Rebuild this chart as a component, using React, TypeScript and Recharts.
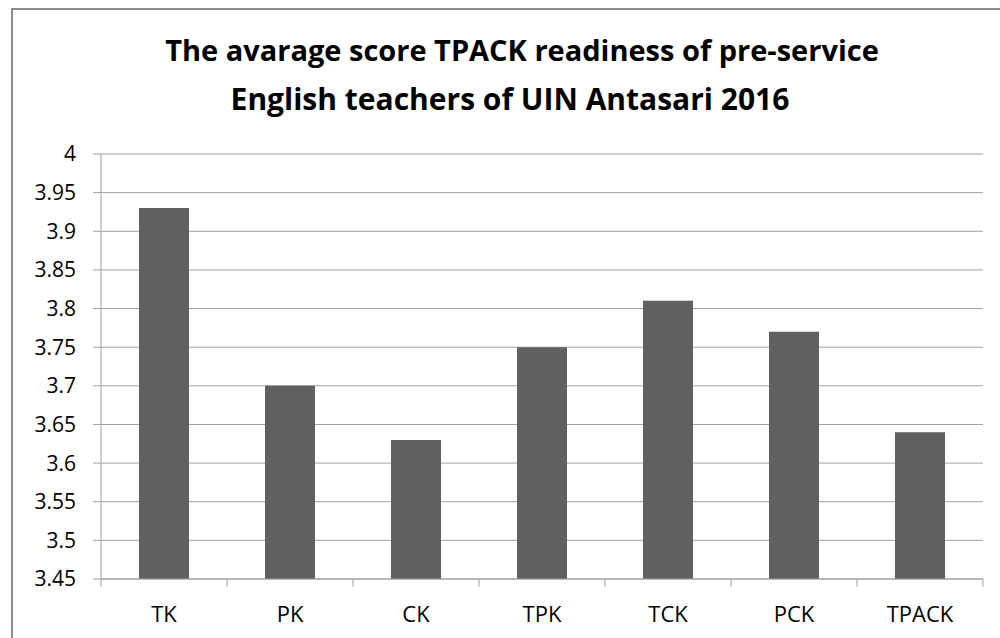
import { BarChart, Bar, XAxis, YAxis, CartesianGrid } from 'recharts';

const categories = ['TK', 'PK', 'CK', 'TPK', 'TCK', 'PCK', 'TPACK'];
const scores = [3.93, 3.7, 3.63, 3.75, 3.81, 3.77, 3.64];
const yTicks = [3.45, 3.5, 3.55, 3.6, 3.65, 3.7, 3.75, 3.8, 3.85, 3.9, 3.95, 4];
const titleLines = [
  'The avarage score TPACK readiness of pre-service',
  'English teachers of UIN Antasari 2016',
];

const data = categories.map((name, i) => ({ name, score: scores[i] }));

const W = 1000;
const H = 638;
const PLOT_LEFT = 101;
const PLOT_RIGHT = 983;
const FONT = '"Open Sans", "Noto Sans", sans-serif';
const GRID = '#a0a0a0';

const band = (PLOT_RIGHT - PLOT_LEFT) / categories.length;

function CategoryTick(props: any) {
  const { x, y, payload } = props;
  const idx = payload.index;
  const left = x - band / 2;
  return (
    <g>
      <line x1={left} y1={y} x2={left} y2={y + 8} stroke={GRID} strokeWidth={1} />
      {idx === categories.length - 1 && (
        <line x1={x + band / 2} y1={y} x2={x + band / 2} y2={y + 8} stroke={GRID} strokeWidth={1} />
      )}
      <text x={x} y={y + 43} textAnchor="middle" fontFamily={FONT} fontSize={22} fill="#000">
        {payload.value}
      </text>
    </g>
  );
}

export default function App() {
  return (
    <div style={{ position: 'absolute', left: 0, top: 0, width: W, height: H, overflow: 'hidden', background: '#fff' }}>
      <div
        style={{
          position: 'absolute',
          left: 11,
          top: 8,
          width: 1000,
          height: 700,
          borderLeft: '2px solid #8c8c8c',
          borderTop: '2px solid #8c8c8c',
        }}
      />
      <div
        style={{
          position: 'absolute',
          left: 0,
          top: 25,
          width: 1044,
          textAlign: 'center',
          fontFamily: FONT,
          fontWeight: 700,
          fontSize: 29,
          lineHeight: '49px',
          color: '#000',
          whiteSpace: 'nowrap',
        }}
      >
        {titleLines.map((t, i) => (
          <div key={t} style={i === 1 ? { paddingRight: 24, fontSize: 30 } : undefined}>
            {t}
          </div>
        ))}
      </div>
      <div style={{ position: 'absolute', left: 0, top: 0 }}>
        <BarChart
          width={W}
          height={H}
          data={data}
          margin={{ top: 154, right: W - PLOT_RIGHT, bottom: 0, left: 0 }}
          barCategoryGap={0}
        >
          <CartesianGrid vertical={false} stroke={GRID} strokeWidth={1} />
          <XAxis
            dataKey="name"
            height={59}
            axisLine={{ stroke: GRID }}
            tickLine={false}
            tickSize={0}
            tickMargin={0}
            interval={0}
            tick={<CategoryTick />}
          />
          <YAxis
            width={PLOT_LEFT}
            domain={[3.45, 4]}
            ticks={yTicks}
            allowDataOverflow
            axisLine={{ stroke: GRID }}
            tickLine={{ stroke: GRID }}
            tickSize={8}
            tickMargin={17}
            tick={{ fontFamily: FONT, fontSize: 21, fill: '#000' }}
          />
          <Bar dataKey="score" fill="#606060" barSize={50} isAnimationActive={false} />
        </BarChart>
      </div>
    </div>
  );
}
